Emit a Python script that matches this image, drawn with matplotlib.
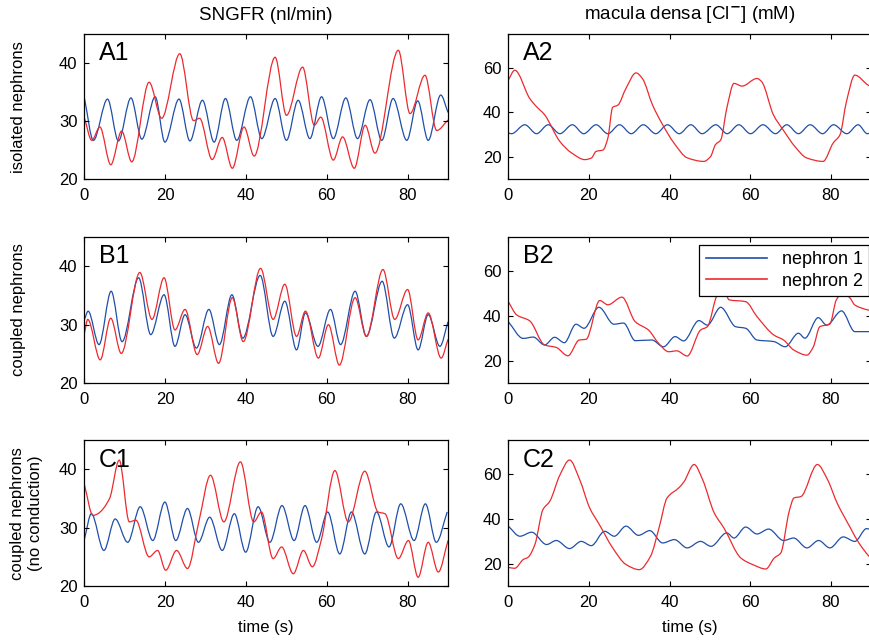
import matplotlib
matplotlib.use("Agg")
import matplotlib.pyplot as plt
from matplotlib.path import Path
from matplotlib.patches import PathPatch
from matplotlib.lines import Line2D

plt.rcParams['font.family'] = ['Liberation Sans', 'DejaVu Sans']

# ---- A: isolated nephrons ----
a1_t1 = [0, 2.2, 5.7, 8.4, 11.5, 14.2, 17.5, 19.9, 23.4, 26.1, 29.2, 32.1, 34.9, 37.7, 41.1, 43.9,
         47.2, 50.0, 52.9, 55.8, 58.7, 61.6, 64.7, 67.6, 70.7, 73.6, 76.4, 79.8, 82.5, 85.1, 88.2, 90]
a1_v1 = [33.9, 26.7, 33.8, 26.6, 34.0, 26.9, 34.2, 26.4, 33.8, 26.6, 33.6, 26.4, 33.9, 26.7, 34.2, 27.0,
         33.9, 26.7, 33.6, 27.0, 34.2, 27.0, 34.0, 27.0, 33.7, 26.7, 33.9, 26.7, 33.5, 26.7, 34.5, 31.5]
a1_t2 = [0, 1.8, 3.8, 6.5, 9.2, 11.7, 16.0, 19.1, 23.6, 27.0, 28.5, 31.6, 34.1, 36.6, 39.5, 42.0,
         47.2, 50.0, 54.0, 56.9, 58.5, 61.6, 63.9, 66.8, 69.5, 71.9, 77.7, 80.6, 84.3, 87.2, 90]
a1_v2 = [30.5, 26.7, 29.0, 22.5, 28.3, 23.0, 36.7, 30.5, 41.6, 30.1, 30.5, 23.4, 27.2, 21.9, 29.0, 24.0,
         41.0, 31.0, 39.3, 29.3, 30.7, 23.3, 27.3, 21.9, 29.3, 24.5, 42.2, 31.3, 37.9, 28.4, 30.2]

a2_t1 = [0, 0.8, 4.1, 7.0, 9.9, 12.8, 15.9, 18.7, 21.8, 24.7, 27.6, 30.5, 33.5, 36.6, 39.5, 42.4,
         45.3, 48.1, 51.5, 54.3, 57.2, 60.1, 63.2, 66.3, 69.1, 72.0, 74.9, 78.0, 80.7, 84.0, 86.8, 89.1, 90]
a2_v1 = [30.7, 30.4, 34.4, 30.4, 34.4, 30.4, 34.4, 30.4, 34.4, 30.4, 34.4, 30.4, 34.4, 30.4, 34.4, 30.4,
         34.4, 30.4, 34.4, 30.4, 34.4, 30.4, 34.4, 30.4, 34.4, 30.4, 34.4, 30.4, 34.4, 30.4, 34.4, 30.4, 30.8]
a2_t2 = [0, 1.6, 5.3, 7.0, 9.0, 12.8, 15.7, 19.0, 20.6, 21.8, 23.5, 24.7, 25.9, 27.2, 29.2,
         31.7, 33.3, 35.8, 38.3, 41.2, 44.4, 48.5, 50.2, 51.4, 52.7, 54.3, 56.0, 58.0, 61.7, 62.9,
         65.8, 68.2, 71.1, 74.0, 78.1, 80.6, 82.3, 83.9, 86.0, 89.3, 90]
a2_v2 = [54.4, 58.8, 46.2, 42.5, 38.9, 26.9, 21.8, 18.8, 19.5, 22.5, 23.1, 28.4, 42.2, 43.2, 50.7,
         57.6, 55.0, 43.2, 34.4, 26.0, 19.6, 18.0, 20.2, 25.5, 27.6, 42.5, 52.9, 51.7, 55.1, 53.6,
         38.8, 32.1, 24.7, 19.6, 18.0, 26.2, 29.9, 44.7, 56.6, 52.1, 51.5]

# ---- B: coupled nephrons ----
b1_t1 = [0, 0.9, 3.6, 6.6, 9.3, 13.4, 16.4, 19.7, 22.4, 24.9, 27.7, 30.8, 33.4, 36.5, 39.2, 43.5,
         46.7, 49.6, 52.5, 54.7, 57.8, 60.9, 63.4, 67.0, 69.8, 73.7, 76.7, 80.0, 82.6, 85.1, 88.0, 90]
b1_v1 = [30.9, 32.3, 26.6, 35.7, 27.1, 38.0, 28.3, 35.1, 26.3, 31.7, 26.0, 32.6, 26.6, 35.1, 27.7, 38.4,
         28.0, 34.0, 25.7, 32.0, 26.3, 32.6, 26.6, 35.7, 28.0, 37.4, 27.7, 33.4, 25.7, 31.7, 26.3, 30.5]
b1_t2 = [0, 0.8, 3.9, 6.5, 9.1, 13.7, 16.7, 19.7, 22.4, 24.9, 27.9, 30.5, 33.2, 36.6, 39.3, 43.6,
         46.7, 49.6, 52.5, 54.7, 57.9, 60.4, 63.1, 67.0, 69.8, 73.9, 76.8, 80.0, 82.6, 85.1, 88.3, 90]
b1_v2 = [28.6, 30.9, 24.0, 31.1, 25.1, 38.9, 30.9, 38.0, 29.1, 32.6, 24.9, 29.7, 23.4, 34.6, 27.1, 39.6,
         30.9, 36.9, 28.0, 32.3, 24.3, 30.0, 23.1, 34.6, 28.0, 39.4, 30.9, 36.0, 27.4, 32.0, 24.3, 27.5]

b2_t1 = [0, 3.7, 6.2, 9.0, 11.5, 13.9, 16.8, 18.8, 22.5, 26.2, 28.6, 31.5, 35.6, 38.5, 41.4, 43.5,
         47.3, 49.4, 52.7, 56.4, 58.9, 61.7, 65.9, 68.7, 72.0, 73.6, 76.9, 79.0, 82.7, 86.0, 90]
b2_v1 = [37.3, 29.9, 30.5, 27.0, 30.4, 28.0, 36.2, 34.4, 43.7, 36.2, 36.7, 28.9, 29.2, 26.2, 30.7, 28.8,
         37.8, 35.8, 43.7, 35.1, 34.4, 29.2, 28.5, 26.2, 32.2, 30.0, 39.1, 35.8, 42.1, 32.9, 32.9]
b2_t2 = [0, 2.1, 5.3, 9.0, 11.9, 14.8, 17.6, 19.3, 22.7, 24.7, 28.2, 31.5, 34.8, 37.3, 39.8, 41.8,
         44.4, 47.7, 49.4, 51.9, 53.5, 54.8, 58.9, 61.7, 65.9, 68.3, 70.8, 74.1, 75.7, 77.3, 79.8,
         81.4, 83.0, 84.7, 86.0, 89.3, 90]
b2_v2 = [46.2, 40.3, 37.7, 27.0, 25.9, 22.2, 29.2, 29.5, 46.7, 44.8, 48.2, 37.3, 33.6, 27.7, 24.0, 24.4,
         22.1, 33.6, 35.1, 49.2, 51.0, 47.0, 46.2, 39.6, 31.4, 29.2, 24.8, 22.5, 26.2, 35.1, 36.3,
         47.0, 50.0, 48.0, 44.7, 42.5, 42.3]

# ---- C: coupled nephrons, no conduction ----
c1_t1 = [0, 1.7, 4.8, 7.6, 10.7, 13.8, 16.9, 19.9, 22.6, 25.5, 28.2, 31.0, 34.1, 37.1, 39.9, 43.0,
         45.9, 48.9, 51.9, 54.6, 57.5, 60.2, 63.2, 66.1, 69.4, 72.3, 75.4, 78.3, 81.6, 84.4, 87.1, 89.8]
c1_v1 = [28.1, 32.4, 26.1, 31.5, 27.5, 33.6, 27.8, 34.4, 27.8, 33.3, 27.5, 31.8, 26.1, 32.4, 25.8, 33.6,
         27.5, 33.8, 27.8, 33.8, 27.5, 32.7, 25.5, 32.7, 25.5, 32.7, 26.7, 34.1, 27.8, 34.1, 27.5, 32.7]
c1_t2 = [0, 2.1, 3.3, 6.2, 8.6, 11.1, 12.7, 16.0, 18.1, 20.1, 22.8, 25.5, 28.3, 31.2, 34.5, 38.6,
         41.9, 43.8, 46.7, 48.8, 51.7, 54.2, 56.4, 58.7, 62.0, 65.3, 69.4, 72.7, 74.4, 77.7, 80.2,
         82.6, 85.1, 87.6, 90]
c1_v2 = [37.3, 32.1, 32.4, 35.0, 41.6, 31.0, 31.3, 25.0, 26.1, 22.7, 26.1, 23.0, 31.0, 39.0, 31.0, 41.3,
         31.0, 32.7, 24.7, 26.7, 22.1, 26.1, 23.3, 28.1, 39.8, 31.0, 39.7, 32.7, 32.4, 24.7, 27.8,
         21.5, 27.5, 22.4, 27.8]

c2_t1 = [0, 2.9, 5.8, 9.5, 11.9, 15.2, 18.1, 20.6, 23.9, 26.3, 29.2, 32.3, 35.1, 38.3, 41.2, 44.4,
         47.7, 50.3, 54.2, 56.0, 58.9, 61.7, 64.6, 68.3, 70.8, 74.1, 77.0, 79.8, 83.1, 86.0, 88.9, 90]
c2_v1 = [36.7, 32.2, 34.0, 28.5, 30.3, 26.7, 29.9, 28.0, 34.4, 32.2, 36.7, 32.6, 34.7, 29.2, 30.7, 27.0,
         29.9, 27.7, 33.7, 31.4, 36.3, 33.2, 35.4, 30.3, 31.4, 27.0, 30.3, 27.0, 31.9, 29.9, 35.6, 35.2]
c2_t2 = [0, 1.6, 3.7, 4.9, 6.6, 8.6, 10.3, 12.8, 15.2, 17.7, 20.2, 22.6, 25.9, 29.2, 32.5,
         35.3, 37.4, 39.4, 42.3, 43.6, 46.1, 48.2, 51.1, 53.5, 57.7, 60.6, 63.9, 66.0,
         67.6, 69.7, 70.9, 72.6, 76.7, 79.2, 81.6, 84.9, 87.0, 89.5, 90]
c2_v2 = [18.3, 17.9, 21.8, 22.8, 28.5, 44.1, 47.8, 59.5, 66.2, 57.5, 44.8, 37.4, 27.0, 19.6, 17.3,
         23.3, 35.9, 49.3, 53.8, 56.5, 64.2, 57.5, 42.6, 35.9, 22.5, 19.6, 17.6, 22.5,
         24.7, 43.3, 49.3, 49.9, 64.2, 57.5, 47.0, 35.9, 29.2, 23.3, 22.5]

panels = [
    ("A1", a1_t1, a1_v1, a1_t2, a1_v2), ("A2", a2_t1, a2_v1, a2_t2, a2_v2),
    ("B1", b1_t1, b1_v1, b1_t2, b1_v2), ("B2", b2_t1, b2_v1, b2_t2, b2_v2),
    ("C1", c1_t1, c1_v1, c1_t2, c1_v2), ("C2", c2_t1, c2_v1, c2_t2, c2_v2),
]
row_labels = ["isolated nephrons", "coupled nephrons", "coupled nephrons\n(no conduction)"]

blue = '#1f4fa8'
red = '#ec2a2e'


def smooth_line(ax, t, v, color):
    # bezier through the read points, flat at the turning points
    n = len(t)
    d = [(v[k + 1] - v[k]) / (t[k + 1] - t[k]) for k in range(n - 1)]
    m = [d[0]]
    for k in range(1, n - 1):
        if d[k - 1] * d[k] <= 0:
            m.append(0.0)
        else:
            m.append(2.0 / (1.0 / d[k - 1] + 1.0 / d[k]))
    m.append(d[-1])
    verts = [(t[0], v[0])]
    codes = [Path.MOVETO]
    for k in range(n - 1):
        h = t[k + 1] - t[k]
        verts += [(t[k] + h / 3, v[k] + m[k] * h / 3),
                  (t[k + 1] - h / 3, v[k + 1] - m[k + 1] * h / 3),
                  (t[k + 1], v[k + 1])]
        codes += [Path.CURVE4] * 3
    ax.add_patch(PathPatch(Path(verts, codes), facecolor='none', edgecolor=color, lw=0.9))


W, H = 870, 642
fig = plt.figure(figsize=(W / 100, H / 100), dpi=100)

# axes boxes in pixels: left, right / top, bottom
cols_px = [(84.5, 448), (508.3, 871)]
rows_px = [(34, 179.3), (236.7, 383.3), (440.3, 586)]
fs = 12

axes = {}
for i, (name, t1, v1, t2, v2) in enumerate(panels):
    r, c = i // 2, i % 2
    x0, x1 = cols_px[c]
    y0, y1 = rows_px[r]
    ax = fig.add_axes([x0 / W, 1 - y1 / H, (x1 - x0) / W, (y1 - y0) / H])
    smooth_line(ax, t1, v1, blue)
    smooth_line(ax, t2, v2, red)
    ax.set_xlim(0, 90)
    ax.set_xticks([0, 20, 40, 60, 80])
    if c == 0:
        ax.set_ylim(20, 45)
        ax.set_yticks([20, 30, 40])
    else:
        ax.set_ylim(10, 75)
        ax.set_yticks([20, 40, 60])
    ax.tick_params(direction='in', top=True, right=True, length=3.5, width=0.8, labelsize=fs)
    ax.tick_params(axis='x', pad=6.5)
    ax.tick_params(axis='y', pad=5)
    for s in ax.spines.values():
        s.set_linewidth(0.9)
    ax.text(0.04, 0.95, name, transform=ax.transAxes, fontsize=18, va='top', ha='left')
    if r == 2:
        ax.set_xlabel("time (s)", fontsize=fs, labelpad=7)
    axes[name] = ax

handles = [Line2D([], [], color=blue, lw=1.2), Line2D([], [], color=red, lw=1.2)]
leg = axes["B2"].legend(handles, ['nephron 1', 'nephron 2'], loc='upper right',
                        bbox_to_anchor=(0.994, 0.945), borderaxespad=0,
                        fontsize=13, frameon=True, fancybox=False, edgecolor='black',
                        framealpha=1, handlelength=3.4, handletextpad=0.8,
                        borderpad=0.35, labelspacing=0.25)
leg.get_frame().set_linewidth(0.9)

fig.text(266 / W, 1 - 15 / H, "SNGFR (nl/min)", ha='center', va='center', fontsize=13.5)
fig.text(690 / W, 1 - 15 / H, "macula densa [Cl$^{\\mathbf{-}}$] (mM)", ha='center', va='center',
         fontsize=13.5)

label_x = [19, 19, 27]
for r, lab in enumerate(row_labels):
    y0, y1 = rows_px[r]
    fig.text(label_x[r] / W, 1 - (y0 + y1) / 2 / H, lab, rotation=90, ha='center', va='center',
             fontsize=fs, linespacing=1.25)

fig.savefig("out.png", dpi=100)
